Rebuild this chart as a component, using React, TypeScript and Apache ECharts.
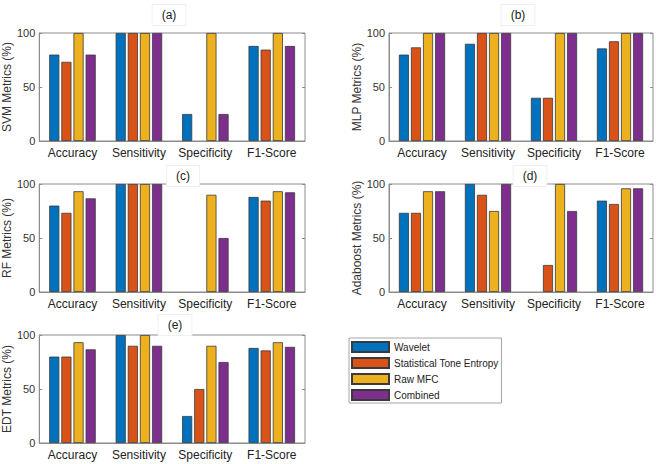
import React, { useEffect, useRef } from "react";
import * as echarts from "echarts";

const categories = ["Accuracy", "Sensitivity", "Specificity", "F1-Score"];
const seriesNames = ["Wavelet", "Statistical Tone Entropy", "Raw MFC", "Combined"];
const colors = ["#0072BD", "#D95319", "#EDB120", "#7E2F8E"];

const panelTitles = ["(a)", "(b)", "(c)", "(d)", "(e)"];
const yNames = ["SVM Metrics (%)", "MLP Metrics (%)", "RF Metrics (%)", "Adaboost Metrics (%)", "EDT Metrics (%)"];

// per panel: [Wavelet, STE, Raw MFC, Combined] each over categories
const svm = [
  [80, 100, 25, 88],
  [73.3, 100, 0, 84.6],
  [100, 100, 100, 100],
  [80, 100, 25, 88],
];
const mlp = [
  [80, 90, 40, 85.7],
  [86.7, 100, 40, 92.3],
  [100, 100, 100, 100],
  [100, 100, 100, 100],
];
const rf = [
  [80, 100, 0, 88],
  [73.3, 100, 0, 84.6],
  [93.3, 100, 90, 93.3],
  [86.7, 100, 50, 92.3],
];
const adaboost = [
  [73.3, 100, 0, 84.6],
  [73.3, 90, 25, 81.5],
  [93.3, 75, 100, 96],
  [93.3, 100, 75, 96],
];
const edt = [
  [80, 100, 25, 88],
  [80, 90, 50, 85.7],
  [93.3, 100, 90, 93.3],
  [86.7, 90, 75, 89],
];
const panels = [svm, mlp, rf, adaboost, edt];

const grids = [
  { left: 37, top: 33, width: 268, height: 108 },
  { left: 389, top: 33, width: 264, height: 108 },
  { left: 37, top: 184, width: 268, height: 108 },
  { left: 389, top: 184, width: 264, height: 108 },
  { left: 37, top: 335, width: 268, height: 108 },
];
const titlePos = [
  [169, 15],
  [518, 15],
  [183, 176],
  [530, 176],
  [175, 325],
];

const FONT = "'Liberation Sans', Arial, Helvetica, sans-serif";
const AXIS_COLOR = "#8c8c8c";

export default function App() {
  const ref = useRef<HTMLDivElement>(null);
  useEffect(() => {
    if (!ref.current) return;
    const chart = echarts.init(ref.current, undefined, { renderer: "svg" });
    const xAxis: any[] = [];
    const yAxis: any[] = [];
    const series: any[] = [];
    panels.forEach((p, i) => {
      xAxis.push({
        type: "category",
        gridIndex: i,
        data: categories,
        axisLine: { show: true, lineStyle: { color: AXIS_COLOR } },
        axisTick: { show: false },
        axisLabel: { color: "#222", fontSize: 12, fontFamily: FONT, margin: 6, interval: 0 },
      });
      yAxis.push({
        type: "value",
        gridIndex: i,
        min: 0,
        max: 100,
        interval: 50,
        name: yNames[i],
        nameLocation: "middle",
        nameGap: 26,
        nameRotate: 90,
        nameTextStyle: { color: "#333", fontSize: 12, fontFamily: FONT },
        axisLine: { show: true, lineStyle: { color: AXIS_COLOR } },
        axisTick: { show: true, inside: true, length: 3, lineStyle: { color: AXIS_COLOR } },
        axisLabel: { color: "#333", fontSize: 11, fontFamily: FONT, margin: 4 },
        splitLine: { show: false },
      });
      yAxis.push({
        type: "value",
        gridIndex: i,
        position: "right",
        min: 0,
        max: 100,
        interval: 50,
        axisLine: { show: false },
        axisTick: { show: true, inside: true, length: 3, lineStyle: { color: AXIS_COLOR } },
        axisLabel: { show: false },
        splitLine: { show: false },
      });
      p.forEach((vals, s) => {
        series.push({
          type: "bar",
          name: seriesNames[s],
          xAxisIndex: i,
          yAxisIndex: i * 2,
          data: vals.map((v) => (v === 0 ? { value: v, itemStyle: { borderWidth: 0 } } : v)),
          barCategoryGap: "30%",
          barGap: "20%",
          itemStyle: { color: colors[s], borderColor: "#3a3a3a", borderWidth: 0.8 },
        });
      });
    });

    const graphic = panelTitles.map((t, i) => ({
      type: "text",
      x: titlePos[i][0],
      y: titlePos[i][1],
      z: 100,
      style: {
        text: t,
        fill: "#222",
        font: `12px ${FONT}`,
        align: "center",
        verticalAlign: "middle",
        backgroundColor: "#fff",
        borderColor: "#f0f0f0",
        borderWidth: 1,
        padding: [4, 9],
      },
    }));

    chart.setOption({
      animation: false,
      backgroundColor: "#fff",
      grid: grids.map((g) => ({ ...g, show: true, borderColor: AXIS_COLOR, borderWidth: 1, backgroundColor: "transparent" })),
      xAxis,
      yAxis,
      series,
      legend: {
        data: seriesNames,
        orient: "vertical",
        left: 349,
        top: 338,
        icon: "rect",
        itemWidth: 37,
        itemHeight: 10,
        itemGap: 4,
        padding: [3, 3, 2, 2],
        borderColor: "#a6a6a6",
        borderWidth: 1,
        backgroundColor: "#fff",
        selectedMode: false,
        textStyle: { color: "#222", fontSize: 10, fontFamily: FONT },
      },
      graphic,
    });
    return () => chart.dispose();
  }, []);
  return <div ref={ref} style={{ position: "fixed", left: 0, top: 0, width: 656, height: 464 }} />;
}
